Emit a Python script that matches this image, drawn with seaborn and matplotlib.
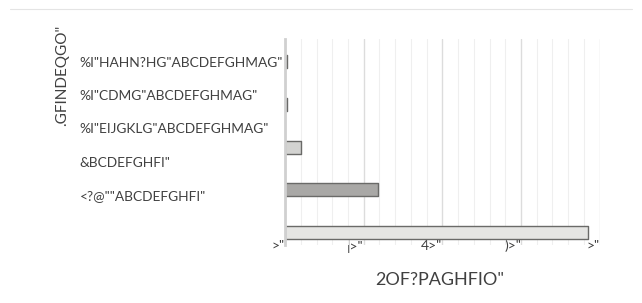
import seaborn as sns
import matplotlib.pyplot as plt
import pandas as pd
from matplotlib.lines import Line2D

# category labels (top to bottom) and bar values
categories = ['%I"HAHN?HG"ABCDEFGHMAG"', '%I"CDMG"ABCDEFGHMAG"',
              '%I"EIJGKLG"ABCDEFGHMAG"', '&BCDEFGHFI"', '<?@""ABCDEFGHFI"']
values = [0.03, 0.03, 0.2, 1.18, 3.85]
bar_colors = ['#111111', '#111111', '#d4d4d0', '#a9a8a6', '#e6e6e2']
x_ticks = [0, 1, 2, 3, 4]
x_tick_labels = ['>"', '|>"', '4>"', ')>"', '>"']
x_title = '2OF?PAGHFIO"'
y_title = '.GFINDEQGO"'

df = pd.DataFrame({"cat": categories, "val": values})

sns.set_theme(style="white")
plt.rcParams['font.family'] = ['Lato', 'DejaVu Sans']

fig = plt.figure(figsize=(6.42, 3.03), dpi=100)
ax = fig.add_axes([0.444, 0.19, 0.49, 0.68])

sns.barplot(data=df, x="val", y="cat", hue="cat", palette=bar_colors,
            legend=False, width=0.3, orient="h", ax=ax)
for p in ax.patches:
    p.set_edgecolor('#6a6a68')
    p.set_linewidth(1.0)
    p.set_joinstyle('round')

ax.set_xlim(0, 4)
ax.set_ylim(4.3, -0.52)
ax.set_xticks(x_ticks)
ax.set_xticklabels(x_tick_labels, fontsize=10, color='#404040', ha='right')
ax.set_xticks([i * 0.2 for i in range(21)], minor=True)
ax.grid(axis='x', which='major', color='#dcdcdc', lw=1.0)
ax.grid(axis='x', which='minor', color='#efefef', lw=0.8)
ax.set_axisbelow(True)

# label rows are spaced tighter than the bars in the reference
ax.set_yticks([i * 0.78 for i in range(len(categories))])
ax.set_yticklabels(categories, fontsize=9.9, color='#404040')
for lab in ax.get_yticklabels():
    lab.set_horizontalalignment('left')
ax.tick_params(axis='y', length=0, pad=148)
ax.tick_params(axis='x', length=0, pad=-4)
ax.set_xlabel('')
ax.set_ylabel('')
for s in ['top', 'right', 'bottom']:
    ax.spines[s].set_visible(False)
ax.spines['left'].set_color('#d0d0d0')
ax.spines['left'].set_linewidth(2)

fig.text(0.097, 0.75, y_title, rotation=90, fontsize=11, color='#404040',
         ha='center', va='center')
fig.text(0.685, 0.075, x_title, fontsize=13, color='#404040',
         ha='center', va='center')
fig.add_artist(Line2D([0.015, 0.985], [0.97, 0.97], color='#e4e4e4', lw=0.8))

fig.savefig("out.png", dpi=100)
